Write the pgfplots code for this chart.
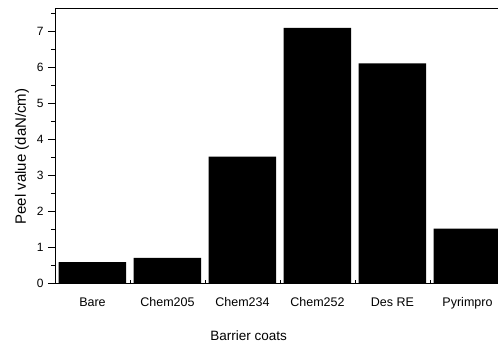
\documentclass[border=0pt]{standalone}
\usepackage{pgfplots}
\pgfplotsset{compat=1.18}
\usepackage{fontspec}
\setmainfont{Liberation Sans}
\begin{document}
\begin{tikzpicture}
\useasboundingbox (-55pt,-64pt) rectangle (443pt,283pt);
\begin{axis}[
  at={(0,0)}, anchor=south west,
  scale only axis, width=443pt, height=275pt,
  xmin=-0.5, xmax=5.407, ymin=0, ymax=7.64,
  axis lines*=left,
  axis line style={line width=0.9pt},
  clip=true,
  xtick={0,1,2,3,4,5},
  xticklabels={Bare,Chem205,Chem234,Chem252,Des RE,Pyrimpro},
  major x tick style={draw=none},
  minor xtick={0.5,1.5,2.5,3.5,4.5},
  ytick={0,1,2,3,4,5,6,7},
  minor ytick={0.5,1.5,2.5,3.5,4.5,5.5,6.5,7.5},
  tick align=outside,
  major tick length=7pt,
  minor tick length=4pt,
  tick style={black, line width=0.8pt},
  minor x tick style={yshift=3pt},
  xticklabel style={font=\fontsize{12.5}{14}\selectfont, yshift=-4pt},
  yticklabel style={font=\fontsize{12}{14}\selectfont, xshift=-1pt},
  /pgf/number format/assume math mode=true,
  xlabel={Barrier coats},
  xlabel style={font=\fontsize{13.5}{15}\selectfont, at={(rel axis cs:0.437,0)}, anchor=base, yshift=-58pt},
  ylabel={Peel value (daN/cm)},
  ylabel style={font=\fontsize{15}{17}\selectfont, at={(rel axis cs:0,0.46)}, anchor=center, yshift=33pt},
  after end axis/.code={\draw[line width=0.9pt] (rel axis cs:0,1) -- (rel axis cs:1,1);},
]
\addplot[ybar, bar width=0.9, fill=black, draw=none] coordinates {
  (0,0.58) (1,0.70) (2,3.51) (3,7.09) (4,6.10) (5,1.51)
};
\end{axis}
\end{tikzpicture}
\end{document}
